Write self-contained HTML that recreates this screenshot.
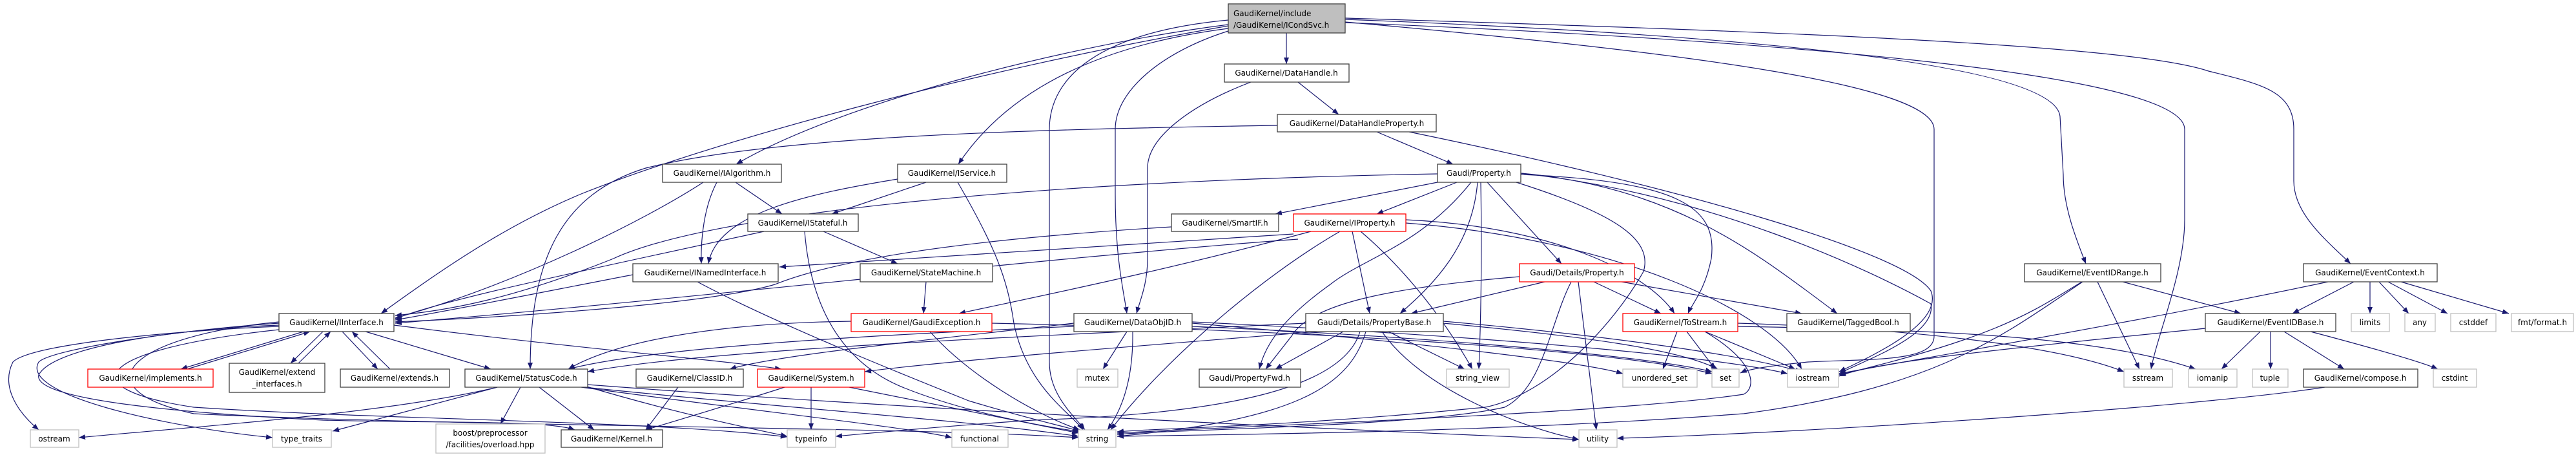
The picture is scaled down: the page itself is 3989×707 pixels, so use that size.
<!DOCTYPE html>
<html><head><meta charset="utf-8"><style>
html,body{margin:0;padding:0;background:#fff}
svg{display:block}
text{font-family:"DejaVu Sans","Liberation Sans",sans-serif;font-size:12px;fill:#000}
.e{fill:none;stroke:#191970;stroke-width:1.2}
.b{fill:#fff;stroke:#404040;stroke-width:1.3}
.r{fill:#fff;stroke:#ff0000;stroke-width:1.3}
.g{fill:#fff;stroke:#bfbfbf;stroke-width:1.3}
</style></head><body>
<svg width="3989" height="707" viewBox="0 0 3989 707" xmlns="http://www.w3.org/2000/svg">
<defs><marker id="a" viewBox="0 0 10 8" refX="10" refY="4" markerWidth="10" markerHeight="8" markerUnits="userSpaceOnUse" orient="auto"><path d="M0,0 L10,4 L0,8 z" fill="#191970"/></marker></defs>
<g class="e" marker-end="url(#a)">
<path d="M1992,51 V99"/>
<path d="M1902,38 C1650,70 1300,160 1140,254"/>
<path d="M1902,44 C1700,70 1560,140 1484,254"/>
<path d="M1902,48 C1800,80 1727,140 1727,200 L1727,300 C1727,400 1740,450 1745,485"/>
<path d="M1902,31 C1700,50 1625,120 1625,200 L1625,560 C1625,610 1660,640 1680,665"/>
<path d="M1902,40 C1500,110 1100,220 900,300 C780,350 680,420 590,485"/>
<path d="M2083,30 C2600,50 3180,90 3190,180 L3195,270 C3195,320 3215,370 3230,408"/>
<path d="M2083,35 C2700,60 3383,110 3383,200 L3383,340 C3383,420 3340,520 3331,571"/>
<path d="M2083,28 C2800,50 3300,70 3420,110 C3500,130 3552,140 3552,200 L3552,280 C3552,330 3600,370 3640,408"/>
<path d="M2083,34 C2600,80 2995,130 2995,200 L2995,520 C2995,560 2900,555 2800,560 C2750,565 2710,570 2695,577"/>
<path d="M2010,127 L2073,177"/>
<path d="M1937,127 C1850,160 1777,210 1777,260 L1777,400 C1777,440 1765,465 1760,485"/>
<path d="M2132,204 L2250,254"/>
<path d="M1978,194 C1600,200 1200,210 1000,260 C870,300 821,400 821,571"/>
<path d="M2182,204 C2600,290 2950,390 2990,450 C3010,500 2900,550 2848,575"/>
<path d="M1139,282 L1211,331"/>
<path d="M1110,282 C1090,320 1085,370 1086,408"/>
<path d="M1089,282 C1000,340 800,440 612,492"/>
<path d="M1434,282 L1288,331"/>
<path d="M1390,277 C1250,300 1110,330 1097,408"/>
<path d="M1483,282 C1540,380 1560,430 1570,500 C1590,600 1660,640 1677,665"/>
<path d="M1183,358 C900,420 700,460 612,493"/>
<path d="M1275,358 L1390,408"/>
<path d="M1246,358 C1255,470 1300,560 1400,600 C1500,640 1620,660 1672,668"/>
<path d="M1814,351 C1500,370 1300,400 1200,440 C1100,470 800,490 612,498"/>
<path d="M2256,282 L2132,331"/>
<path d="M2226,282 L1975,331"/>
<path d="M2226,269 C1600,280 1100,330 950,400 C800,460 700,480 612,488"/>
<path d="M2303,282 L2418,408"/>
<path d="M2288,282 C2280,380 2220,440 2168,485"/>
<path d="M2293,282 C2295,400 2293,500 2290,571"/>
<path d="M2355,270 C2600,280 2660,320 2650,400 C2640,450 2620,470 2614,485"/>
<path d="M2355,268 C2600,290 2730,400 2845,485"/>
<path d="M2355,268 C2650,300 2900,420 2990,470 C3000,520 2880,560 2848,578"/>
<path d="M2278,282 C2200,380 2110,400 2060,440 C1990,490 1960,530 1950,571"/>
<path d="M2348,282 C2500,330 2560,370 2545,420 C2500,500 2400,610 2300,630 C2000,660 1800,662 1730,668"/>
<path d="M2094,358 L2121,485"/>
<path d="M2030,358 C1800,420 1600,460 1485,485"/>
<path d="M2003,362 C1700,380 1400,400 1207,413"/>
<path d="M2010,370 C1600,400 1100,460 612,500"/>
<path d="M2107,358 C2180,420 2240,500 2280,571"/>
<path d="M2177,340 C2400,350 2550,420 2593,485"/>
<path d="M2177,345 C2500,370 2740,480 2790,571"/>
<path d="M2075,358 C1950,430 1800,560 1720,665"/>
<path d="M2392,436 L2185,485"/>
<path d="M2468,436 L2572,485"/>
<path d="M2511,436 L2790,485"/>
<path d="M2444,436 L2472,665"/>
<path d="M2433,436 C2400,500 2390,600 2330,630 C2200,660 1800,665 1730,672"/>
<path d="M2353,428 C2150,445 2030,470 2000,520 L1960,571"/>
<path d="M2022,500 C1600,520 1100,540 910,575"/>
<path d="M2080,513 L1975,571"/>
<path d="M2150,513 L2268,571"/>
<path d="M1846,500 C2200,530 2450,560 2513,578"/>
<path d="M2235,500 C2450,520 2600,540 2660,571"/>
<path d="M2235,497 C2500,520 2700,550 2790,575"/>
<path d="M2140,513 C2200,600 2350,660 2445,680"/>
<path d="M2115,513 C2090,600 2000,650 1730,675"/>
<path d="M2106,513 C2080,600 1900,640 1600,650 C1450,660 1350,670 1294,675"/>
<path d="M2040,513 C1700,540 1450,560 1339,575"/>
<path d="M2597,513 L2575,571"/>
<path d="M2612,513 L2656,571"/>
<path d="M2640,513 L2780,571"/>
<path d="M2691,500 C3000,510 3200,540 3289,575"/>
<path d="M2640,513 C2720,560 2720,600 2700,610 C2500,640 1900,660 1730,670"/>
<path d="M2691,505 C3000,510 3250,520 3400,571"/>
<path d="M3287,436 L3470,485"/>
<path d="M3248,436 L3313,571"/>
<path d="M3224,436 C3150,480 3100,520 2848,580"/>
<path d="M3225,436 C3100,520 3000,600 2700,640 C2300,670 1900,672 1730,675"/>
<path d="M3645,436 L3550,485"/>
<path d="M3670,436 V485"/>
<path d="M3684,436 L3730,485"/>
<path d="M3698,436 L3790,485"/>
<path d="M3718,436 L3885,485"/>
<path d="M3605,436 C3300,500 3000,550 2848,578"/>
<path d="M3500,513 L3440,571"/>
<path d="M3516,513 V571"/>
<path d="M3537,513 L3630,571"/>
<path d="M3578,513 C3680,540 3750,560 3775,571"/>
<path d="M3415,508 C3100,540 2900,560 2848,582"/>
<path d="M3600,599 C3400,630 2800,670 2504,678"/>
<path d="M1663,505 C1300,520 1000,540 880,571"/>
<path d="M1663,500 C1400,530 1200,550 1130,571"/>
<path d="M1745,513 L1708,571"/>
<path d="M1754,513 C1755,580 1740,630 1715,665"/>
<path d="M1846,505 C2200,520 2550,550 2651,575"/>
<path d="M1846,498 C2300,520 2650,550 2768,578"/>
<path d="M1318,497 C1100,500 950,530 880,571"/>
<path d="M1440,513 C1500,580 1600,640 1672,665"/>
<path d="M1536,500 C2000,510 2500,540 2651,578"/>
<path d="M1434,436 L1430,485"/>
<path d="M980,425 C850,450 700,480 612,495"/>
<path d="M1080,436 C1200,500 1400,580 1500,620 C1600,650 1650,660 1672,667"/>
<path d="M1050,599 L1000,665"/>
<path d="M1215,599 C1150,620 1050,650 1000,665"/>
<path d="M1256,599 V665"/>
<path d="M1315,599 L1670,670"/>
<path d="M770,599 C600,640 300,660 122,677"/>
<path d="M770,599 L515,667"/>
<path d="M806,599 L775,656"/>
<path d="M835,599 L920,665"/>
<path d="M900,599 C1200,640 1400,660 1474,677"/>
<path d="M905,599 C1200,630 1500,650 1670,675"/>
<path d="M910,595 C1500,640 2200,670 2445,680"/>
<path d="M905,597 C1050,640 1150,660 1219,675"/>
<path d="M470,513 L280,571"/>
<path d="M290,571 L480,513"/>
<path d="M500,513 L450,562"/>
<path d="M462,562 L512,513"/>
<path d="M530,513 L585,571"/>
<path d="M604,571 L545,513"/>
<path d="M566,513 L760,571"/>
<path d="M610,503 C900,540 1100,555 1210,571"/>
<path d="M432,505 C300,510 50,530 20,560 C0,600 30,640 60,665"/>
<path d="M432,500 C280,510 80,540 60,560 C30,610 250,660 422,677"/>
<path d="M432,503 C250,510 80,540 60,580 C50,620 300,640 500,650 C700,655 850,650 890,665"/>
<path d="M432,510 C150,540 100,600 300,630 C600,650 1000,650 1219,676"/>
<path d="M432,498 C200,520 120,600 300,640 C700,660 1400,660 1670,677"/>
</g>
<g>
<rect x="1902" y="6" width="181" height="45" fill="#bfbfbf" stroke="#404040" stroke-width="1.3"/>
<text x="1910" y="25">GaudiKernel/include</text><text x="1910" y="43">/GaudiKernel/ICondSvc.h</text>
</g>
<g text-anchor="middle">
<rect class="b" x="1896" y="99" width="193" height="28"/><text x="1992" y="117">GaudiKernel/DataHandle.h</text>
<rect class="b" x="1978" y="177" width="246" height="27"/><text x="2101" y="195">GaudiKernel/DataHandleProperty.h</text>
<rect class="b" x="1026" y="254" width="184" height="28"/><text x="1118" y="272">GaudiKernel/IAlgorithm.h</text>
<rect class="b" x="1390" y="254" width="169" height="28"/><text x="1474" y="272">GaudiKernel/IService.h</text>
<rect class="b" x="2226" y="254" width="129" height="28"/><text x="2290" y="272">Gaudi/Property.h</text>
<rect class="b" x="1158" y="331" width="171" height="27"/><text x="1243" y="349">GaudiKernel/IStateful.h</text>
<rect class="b" x="1814" y="331" width="166" height="27"/><text x="1897" y="349">GaudiKernel/SmartIF.h</text>
<rect class="r" x="2003" y="331" width="174" height="27"/><text x="2090" y="349">GaudiKernel/IProperty.h</text>
<rect class="b" x="980" y="408" width="225" height="28"/><text x="1092" y="426">GaudiKernel/INamedInterface.h</text>
<rect class="b" x="1332" y="408" width="205" height="28"/><text x="1434" y="426">GaudiKernel/StateMachine.h</text>
<rect class="r" x="2353" y="408" width="178" height="28"/><text x="2442" y="426">Gaudi/Details/Property.h</text>
<rect class="b" x="3135" y="408" width="211" height="28"/><text x="3240" y="426">GaudiKernel/EventIDRange.h</text>
<rect class="b" x="3567" y="408" width="207" height="28"/><text x="3670" y="426">GaudiKernel/EventContext.h</text>
<rect class="b" x="432" y="485" width="178" height="28"/><text x="521" y="503">GaudiKernel/IInterface.h</text>
<rect class="r" x="1318" y="485" width="218" height="28"/><text x="1427" y="503">GaudiKernel/GaudiException.h</text>
<rect class="b" x="1663" y="485" width="183" height="28"/><text x="1754" y="503">GaudiKernel/DataObjID.h</text>
<rect class="b" x="2022" y="485" width="213" height="28"/><text x="2128" y="503">Gaudi/Details/PropertyBase.h</text>
<rect class="r" x="2513" y="485" width="178" height="28"/><text x="2602" y="503">GaudiKernel/ToStream.h</text>
<rect class="b" x="2767" y="485" width="191" height="28"/><text x="2862" y="503">GaudiKernel/TaggedBool.h</text>
<rect class="b" x="3415" y="485" width="202" height="28"/><text x="3516" y="503">GaudiKernel/EventIDBase.h</text>
<rect class="g" x="3641" y="485" width="59" height="28"/><text x="3670" y="503">limits</text>
<rect class="g" x="3724" y="485" width="47" height="28"/><text x="3747" y="503">any</text>
<rect class="g" x="3795" y="485" width="70" height="28"/><text x="3830" y="503">cstddef</text>
<rect class="g" x="3889" y="485" width="96" height="28"/><text x="3937" y="503">fmt/format.h</text>
<rect class="r" x="136" y="571" width="194" height="28"/><text x="233" y="589">GaudiKernel/implements.h</text>
<rect class="b" x="355" y="562" width="148" height="45"/><text x="429" y="580">GaudiKernel/extend</text><text x="429" y="598">_interfaces.h</text>
<rect class="b" x="527" y="571" width="169" height="28"/><text x="611" y="589">GaudiKernel/extends.h</text>
<rect class="b" x="720" y="571" width="190" height="28"/><text x="815" y="589">GaudiKernel/StatusCode.h</text>
<rect class="b" x="985" y="571" width="166" height="28"/><text x="1068" y="589">GaudiKernel/ClassID.h</text>
<rect class="r" x="1173" y="571" width="166" height="28"/><text x="1256" y="589">GaudiKernel/System.h</text>
<rect class="g" x="1668" y="571" width="63" height="28"/><text x="1699" y="589">mutex</text>
<rect class="b" x="1857" y="571" width="157" height="28"/><text x="1935" y="589">Gaudi/PropertyFwd.h</text>
<rect class="g" x="2240" y="571" width="97" height="28"/><text x="2288" y="589">string_view</text>
<rect class="g" x="2513" y="571" width="115" height="28"/><text x="2570" y="589">unordered_set</text>
<rect class="g" x="2651" y="571" width="42" height="28"/><text x="2672" y="589">set</text>
<rect class="g" x="2768" y="571" width="79" height="28"/><text x="2807" y="589">iostream</text>
<rect class="g" x="3289" y="571" width="75" height="28"/><text x="3326" y="589">sstream</text>
<rect class="g" x="3389" y="571" width="75" height="28"/><text x="3426" y="589">iomanip</text>
<rect class="g" x="3488" y="571" width="55" height="28"/><text x="3515" y="589">tuple</text>
<rect class="b" x="3567" y="571" width="177" height="28"/><text x="3655" y="589">GaudiKernel/compose.h</text>
<rect class="g" x="3768" y="571" width="67" height="28"/><text x="3801" y="589">cstdint</text>
<rect class="g" x="47" y="665" width="75" height="27"/><text x="84" y="683">ostream</text>
<rect class="g" x="422" y="665" width="91" height="27"/><text x="467" y="683">type_traits</text>
<rect class="g" x="675" y="656" width="169" height="45"/><text x="759" y="674">boost/preprocessor</text><text x="759" y="692">/facilities/overload.hpp</text>
<rect class="b" x="869" y="665" width="157" height="27"/><text x="947" y="683">GaudiKernel/Kernel.h</text>
<rect class="g" x="1219" y="665" width="75" height="27"/><text x="1256" y="683">typeinfo</text>
<rect class="g" x="1474" y="665" width="87" height="27"/><text x="1517" y="683">functional</text>
<rect class="g" x="1670" y="665" width="58" height="27"/><text x="1699" y="683">string</text>
<rect class="g" x="2445" y="665" width="59" height="27"/><text x="2474" y="683">utility</text>
</g>
</svg>
</body></html>
